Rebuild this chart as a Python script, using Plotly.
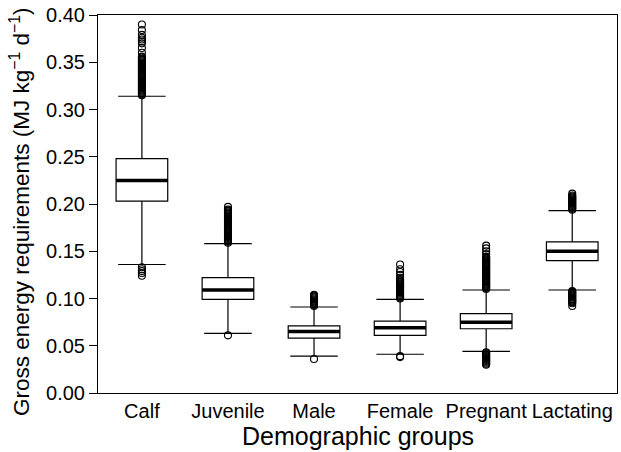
import plotly.graph_objects as go

groups = ["Calf", "Juvenile", "Male", "Female", "Pregnant", "Lactating"]
q1 = [0.203, 0.099, 0.058, 0.061, 0.068, 0.140]
median = [0.225, 0.109, 0.065, 0.069, 0.075, 0.150]
q3 = [0.248, 0.122, 0.071, 0.076, 0.084, 0.160]
lower_whisker = [0.136, 0.063, 0.039, 0.041, 0.044, 0.109]
upper_whisker = [0.314, 0.158, 0.091, 0.099, 0.109, 0.193]

outliers = {
    "Calf": [0.315, 0.316, 0.317, 0.318, 0.319, 0.320, 0.321, 0.322, 0.323, 0.324,
             0.325, 0.326, 0.327, 0.328, 0.329, 0.330, 0.331, 0.332, 0.333, 0.334,
             0.335, 0.336, 0.337, 0.338, 0.339, 0.340, 0.341, 0.342, 0.343, 0.344,
             0.345, 0.346, 0.347, 0.348, 0.349, 0.350, 0.351, 0.352, 0.353, 0.354,
             0.355, 0.356, 0.360, 0.365, 0.370, 0.372, 0.374, 0.376, 0.379, 0.384, 0.390,
             0.133, 0.131, 0.129, 0.127, 0.124],
    "Juvenile": [0.159, 0.160, 0.161, 0.162, 0.163, 0.164, 0.165, 0.166, 0.167, 0.168,
                 0.169, 0.170, 0.171, 0.172, 0.173, 0.174, 0.175, 0.176, 0.177, 0.178,
                 0.179, 0.180, 0.181, 0.182, 0.183, 0.184, 0.185, 0.186, 0.187, 0.188,
                 0.189, 0.190, 0.191, 0.192, 0.193, 0.194, 0.197,
                 0.061],
    "Male": [0.092, 0.093, 0.094, 0.095, 0.096, 0.097, 0.098, 0.099, 0.100, 0.101,
             0.102, 0.103, 0.104, 0.036],
    "Female": [0.100, 0.101, 0.102, 0.103, 0.104, 0.105, 0.106, 0.107, 0.108, 0.109,
               0.110, 0.111, 0.112, 0.113, 0.114, 0.115, 0.116, 0.117, 0.118, 0.119,
               0.120, 0.122, 0.125, 0.128, 0.131, 0.136, 0.038, 0.039],
    "Pregnant": [0.110, 0.111, 0.112, 0.113, 0.114, 0.115, 0.116, 0.117, 0.118, 0.119,
                 0.120, 0.121, 0.122, 0.123, 0.124, 0.125, 0.126, 0.127, 0.128, 0.129,
                 0.130, 0.131, 0.132, 0.133, 0.134, 0.135, 0.136, 0.137, 0.138, 0.139,
                 0.140, 0.141, 0.142, 0.143, 0.144, 0.147, 0.150, 0.153, 0.156,
                 0.043, 0.042, 0.041, 0.040, 0.039, 0.038, 0.037, 0.036, 0.035, 0.034,
                 0.033, 0.032, 0.031, 0.030],
    "Lactating": [0.194, 0.195, 0.196, 0.197, 0.198, 0.199, 0.200, 0.201, 0.202, 0.203,
                  0.204, 0.205, 0.206, 0.207, 0.208, 0.209, 0.211,
                  0.108, 0.107, 0.106, 0.105, 0.104, 0.103, 0.102, 0.101, 0.100, 0.099,
                  0.098, 0.097, 0.096, 0.095, 0.092],
}

x_title = "Demographic groups"
y_title = "Gross energy requirements (MJ kg<sup>−1</sup> d<sup>−1</sup>)"

box_half = 0.3
font = "Liberation Sans, Arial, Helvetica, sans-serif"

fig = go.Figure()
for i, g in enumerate(groups):
    fig.add_trace(go.Box(
        x=[i], q1=[q1[i]], median=[median[i]], q3=[q3[i]],
        lowerfence=[lower_whisker[i]], upperfence=[upper_whisker[i]],
        width=2 * box_half, whiskerwidth=0.92, boxpoints=False,
        fillcolor="white", line=dict(color="black", width=1.2),
        showlegend=False, hoverinfo="skip",
    ))
    fig.add_trace(go.Scatter(
        x=[i - box_half, i + box_half], y=[median[i], median[i]],
        mode="lines", line=dict(color="black", width=3.5),
        showlegend=False, hoverinfo="skip",
    ))
    fig.add_trace(go.Scatter(
        x=[i] * len(outliers[g]), y=outliers[g], mode="markers",
        marker=dict(symbol="circle-open", size=7, color="black",
                    line=dict(width=1.1, color="black")),
        showlegend=False, hoverinfo="skip",
    ))

fig.update_layout(
    width=621, height=452,
    margin=dict(l=98, r=4, t=15, b=59),
    paper_bgcolor="white", plot_bgcolor="white",
    font=dict(family=font, size=20, color="black"),
    xaxis=dict(
        range=[-0.51, 5.52], tickmode="array", tickvals=list(range(len(groups))),
        ticktext=groups, ticks="", showgrid=False, zeroline=False,
        showline=True, mirror=True, linecolor="black", linewidth=1,
        tickfont=dict(size=20),
    ),
    yaxis=dict(
        range=[0, 0.40], dtick=0.05, tickformat=".2f", ticks="outside",
        ticklen=8, tickcolor="black", showgrid=False, zeroline=False,
        showline=True, mirror=True, linecolor="black", linewidth=1,
        tickfont=dict(size=20),
    ),
    annotations=[
        dict(text=x_title, xref="paper", yref="paper", x=0.5, y=0,
             xanchor="center", yanchor="middle", yshift=-43, showarrow=False,
             font=dict(size=25)),
        dict(text=y_title, xref="paper", yref="paper", x=0, y=0.5,
             xanchor="center", yanchor="middle", xshift=-78, yshift=-8,
             textangle=-90, showarrow=False, font=dict(size=22.5)),
    ],
)

fig.write_html("out.html")
